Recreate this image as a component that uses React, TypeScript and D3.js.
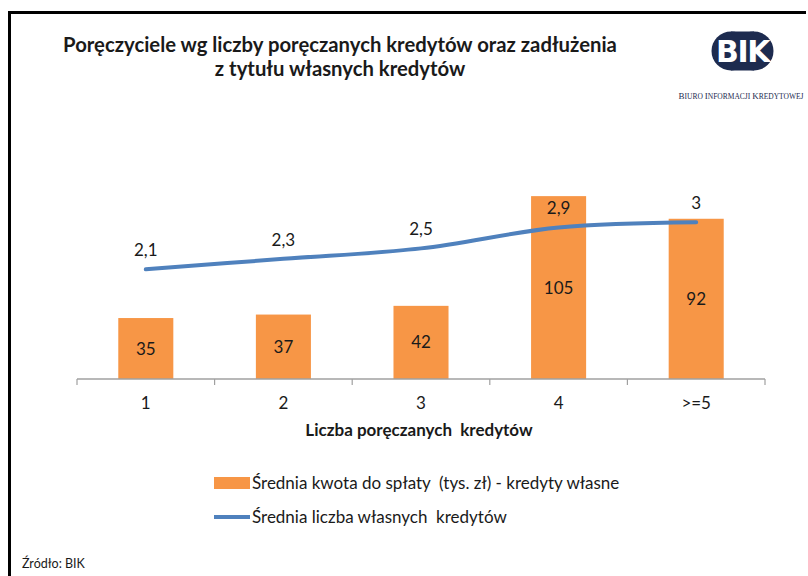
import * as d3 from "d3";

const categories = ["1", "2", "3", "4", ">=5"];
const avgDebt = [35, 37, 42, 105, 92];
const avgCredits = [2.1, 2.3, 2.5, 2.9, 3];

const debtName = "Średnia kwota do spłaty  (tys. zł) - kredyty własne";
const creditsName = "Średnia liczba własnych  kredytów";
const titleLines = [
  "Poręczyciele wg liczby poręczanych kredytów oraz zadłużenia",
  "z tytułu własnych kredytów",
];
const xTitle = "Liczba poręczanych  kredytów";
const source = "Źródło: BIK";

const W = 808;
const H = 576;
const font = "Lato, 'Open Sans', sans-serif";
const orange = "#f79646";
const blue = "#4f81bd";
const pre = { whiteSpace: "pre" } as const;

const App = () => {
  const margin = { left: 77, right: 43, top: 170, baseline: 379 };

  const x = d3
    .scaleBand<string>()
    .domain(categories)
    .range([margin.left, W - margin.right])
    .paddingInner(0.6)
    .paddingOuter(0.3);

  const yBar = d3.scaleLinear().domain([0, 120]).range([margin.baseline, margin.top]);
  const yLine = d3.scaleLinear().domain([0, 4]).range([margin.baseline, margin.top]);

  const pts: [number, number][] = avgCredits.map((v, i) => [
    (x(categories[i]) ?? 0) + x.bandwidth() / 2,
    yLine(v),
  ]);
  const line = d3.line<[number, number]>().curve(d3.curveCatmullRom.alpha(0.5))(pts) ?? "";

  // band edges for tick marks
  const step = x.step();
  const edges = d3.range(categories.length + 1).map((i) => margin.left + i * step);

  return (
    <svg
      width={W}
      height={H}
      style={{ position: "absolute", left: 0, top: 0, background: "#fff" }}
      fontFamily={font}
    >
      <rect width={W} height={H} fill="#fff" />
      {/* frame */}
      <line x1={9.5} x2={806} y1={12.5} y2={12.5} stroke="#000" strokeWidth={3} />
      <line x1={9.5} x2={9.5} y1={11} y2={H} stroke="#000" strokeWidth={3} />

      {/* title */}
      {titleLines.map((t, i) => (
        <text
          key={t}
          x={340}
          y={52 + i * 24}
          textAnchor="middle"
          fontSize={20.3}
          fontWeight="bold"
          fill="#1a1a1a"
        >
          {t}
        </text>
      ))}

      {/* logo */}
      <g>
        <circle cx={731} cy={51} r={19.5} fill="#1d2b4f" />
        <circle cx={754} cy={51} r={19.5} fill="#1d2b4f" />
        <rect x={731} y={31.5} width={23} height={39} fill="#1d2b4f" />
        <text
          x={742.5}
          y={62}
          textAnchor="middle"
          fontSize={30}
          fontWeight="900"
          fill="#fff"
          fontFamily="'DejaVu Sans', sans-serif"
          letterSpacing={-1.5}
        >
          BIK
        </text>
        <text
          x={741}
          y={99}
          textAnchor="middle"
          fontSize={7.5}
          fill="#1d2b4f"
          fontFamily="'Liberation Serif', serif"
        >
          <tspan fontSize={9}>B</tspan>IURO <tspan fontSize={9}>I</tspan>NFORMACJI{" "}
          <tspan fontSize={9}>K</tspan>REDYTOWEJ
        </text>
      </g>

      {/* bars */}
      {avgDebt.map((v, i) => {
        const bx = x(categories[i]) ?? 0;
        return (
          <g key={categories[i]}>
            <rect
              x={bx}
              y={yBar(v)}
              width={x.bandwidth()}
              height={yBar(0) - yBar(v)}
              fill={orange}
            />
            <text
              x={bx + x.bandwidth() / 2}
              y={(yBar(v) + yBar(0)) / 2 + 6}
              textAnchor="middle"
              fontSize={17}
              fill="#1a1a1a"
            >
              {v}
            </text>
          </g>
        );
      })}

      {/* axis */}
      <line
        x1={margin.left}
        x2={W - margin.right}
        y1={margin.baseline}
        y2={margin.baseline}
        stroke="#a0a0a0"
        strokeWidth={1.5}
      />
      {edges.map((e) => (
        <line key={e} x1={e} x2={e} y1={margin.baseline} y2={margin.baseline + 6} stroke="#a0a0a0" strokeWidth={1.2} />
      ))}
      {categories.map((c) => (
        <text
          key={c}
          x={(x(c) ?? 0) + x.bandwidth() / 2}
          y={409}
          textAnchor="middle"
          fontSize={17}
          fill="#1a1a1a"
        >
          {c}
        </text>
      ))}
      <text x={419} y={436} textAnchor="middle" fontSize={17} fontWeight="bold" fill="#1a1a1a" style={pre}>
        {xTitle}
      </text>

      {/* line series */}
      <path d={line} fill="none" stroke={blue} strokeWidth={4} strokeLinecap="round" />
      {avgCredits.map((v, i) => (
        <text
          key={i}
          x={pts[i][0]}
          y={pts[i][1] - 13}
          textAnchor="middle"
          fontSize={17}
          fill="#1a1a1a"
        >
          {String(v).replace(".", ",")}
        </text>
      ))}

      {/* legend */}
      <rect x={214} y={477} width={36} height={12} fill={orange} />
      <text x={252} y={489} fontSize={17} fill="#1a1a1a" style={pre}>
        {debtName}
      </text>
      <line x1={214} x2={250} y1={517} y2={517} stroke={blue} strokeWidth={4} />
      <text x={252} y={523} fontSize={17} fill="#1a1a1a" style={pre}>
        {creditsName}
      </text>

      {/* source */}
      <text x={22} y={568} fontSize={12.5} fill="#1a1a1a">
        {source}
      </text>
    </svg>
  );
};

export default App;
